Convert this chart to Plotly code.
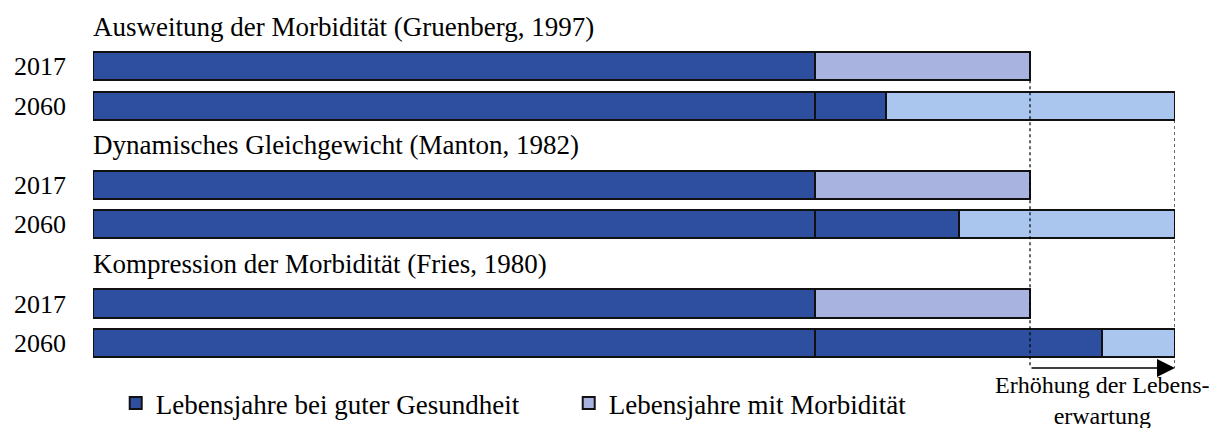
import plotly.graph_objects as go

# ---- data ----
group_titles = [
    "Ausweitung der Morbidität (Gruenberg, 1997)",
    "Dynamisches Gleichgewicht (Manton, 1982)",
    "Kompression der Morbidität (Fries, 1980)",
]
years = ["2017", "2060"]
# per bar, order: g1-2017, g1-2060, g2-2017, g2-2060, g3-2017, g3-2060
healthy_base = [72.2, 72.2, 72.2, 72.2, 72.2, 72.2]
healthy_extra = [0, 7.1, 0, 14.4, 0, 28.7]
morbidity = [21.5, 28.9, 21.5, 21.6, 21.5, 7.3]

legend_names = ["Lebensjahre bei guter Gesundheit", "Lebensjahre mit Morbidität"]
annot_text = "Erhöhung der Lebens-<br>erwartung"

# ---- styling ----
FONT = "Liberation Serif"
DARK = "#2e4f9f"
LIGHT_2017 = "#a9b3df"
LIGHT_2060 = "#aac6ee"
OUT = "#111111"

rows = []
tick_labels = []
for g in range(len(group_titles)):
    for k, yr in enumerate(years):
        rows.append(3 * g + 1 + k)
        tick_labels.append(yr)

morb_colors = [LIGHT_2017 if yr == "2017" else LIGHT_2060 for yr in tick_labels]

fig = go.Figure()
fig.add_trace(go.Bar(
    y=rows, x=healthy_base, orientation="h", name=legend_names[0],
    legendgroup="h", marker=dict(color=DARK, line=dict(color=OUT, width=2)),
    width=0.71, hoverinfo="skip"))
fig.add_trace(go.Bar(
    y=rows, x=healthy_extra, orientation="h", name=legend_names[0],
    legendgroup="h", showlegend=False,
    marker=dict(color=DARK, line=dict(color=OUT, width=2)),
    width=0.71, hoverinfo="skip"))
fig.add_trace(go.Bar(
    y=rows, x=morbidity, orientation="h", name=legend_names[1],
    marker=dict(color=morb_colors, line=dict(color=OUT, width=2)),
    width=0.71, hoverinfo="skip"))

total_2017 = healthy_base[0] + healthy_extra[0] + morbidity[0]
total_2060 = healthy_base[1] + healthy_extra[1] + morbidity[1]

annotations = []
for g, t in enumerate(group_titles):
    annotations.append(dict(x=0, y=3 * g, xref="x", yref="y", text=t,
                            showarrow=False, xanchor="left", yanchor="middle",
                            xshift=-2,
                            font=dict(family=FONT, size=27, color="black")))

arrow_row = 8.63
annotations.append(dict(x=total_2060, y=arrow_row, ax=total_2017, ay=arrow_row,
                        xref="x", yref="y", axref="x", ayref="y", text="",
                        showarrow=True, arrowhead=2, arrowsize=2.4,
                        arrowwidth=1.5, arrowcolor="black", standoff=0))
annotations.append(dict(x=(total_2017 + total_2060) / 2, y=9.44, xref="x", yref="y",
                        text=annot_text, showarrow=False, xanchor="center",
                        yanchor="middle",
                        font=dict(family=FONT, size=24, color="black")))

shapes = [
    dict(type="line", xref="x", yref="y", x0=total_2017, x1=total_2017,
         y0=1.36, y1=arrow_row, line=dict(color="black", width=1.2, dash="3px,3px")),
    dict(type="line", xref="x", yref="y", x0=total_2060, x1=total_2060,
         y0=2.36, y1=arrow_row, line=dict(color="black", width=1.2, dash="3px,3px")),
]

fig.update_layout(
    barmode="stack",
    width=1223, height=428,
    margin=dict(l=93, r=48, t=0, b=0),
    paper_bgcolor="white", plot_bgcolor="white",
    font=dict(family=FONT, size=24, color="black"),
    xaxis=dict(range=[0, total_2060], visible=False, fixedrange=True),
    yaxis=dict(range=[10.147, -0.67], tickvals=rows, ticktext=tick_labels,
               showgrid=False, zeroline=False, showline=False, ticks="",
               ticklabelstandoff=26, tickfont=dict(family=FONT, size=26),
               fixedrange=True),
    showlegend=True,
    legend=dict(orientation="h", x=0.021, y=0.0, xanchor="left", yanchor="bottom",
                font=dict(family=FONT, size=27), itemwidth=30,
                entrywidth=408, entrywidthmode="pixels",
                traceorder="normal", bgcolor="rgba(0,0,0,0)"),
    annotations=annotations,
    shapes=shapes,
)

fig.write_html("out.html", config={"displayModeBar": False},
               post_script="document.body.style.margin='0px';document.body.style.overflow='hidden';")
